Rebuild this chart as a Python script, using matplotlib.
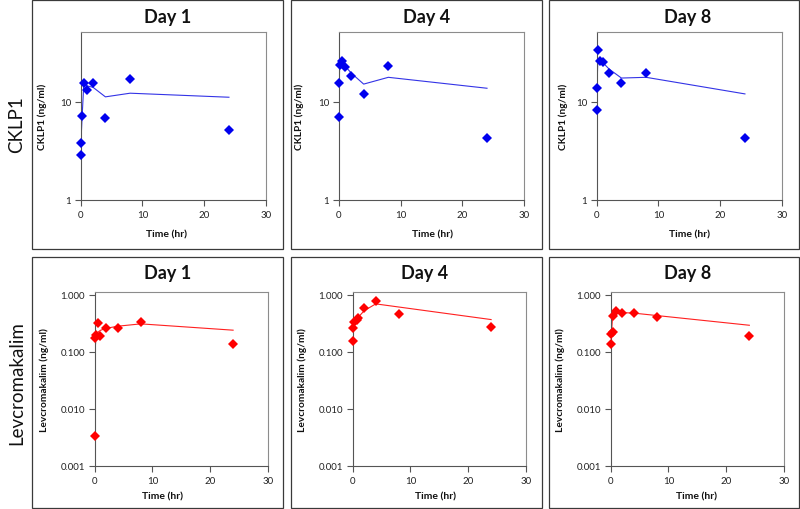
# ======================================================= #
# LIBRARIES
# ======================================================= #
import matplotlib.pyplot as plt
from matplotlib.patches import Rectangle

plt.rcParams['font.family'] = ['Lato', 'DejaVu Sans']


# ======================================================= #
# DATA
# ======================================================= #
day_titles = ["Day 1", "Day 4", "Day 8"]
row_names = ["CKLP1", "Levcromakalim"]
y_labels = ["CKLP1 (ng/ml)", "Levcromakalim (ng/ml)"]
x_label = "Time (hr)"
x_ticks = [0, 10, 20, 30]

# CKLP1 observed
cklp1_obs_t = [[0, 0, 0.25, 0.5, 1, 2, 4, 8, 24],
               [0, 0, 0.1, 0.5, 1, 2, 4, 8, 24],
               [0, 0, 0.17, 0.5, 1, 2, 4, 8, 24]]
cklp1_obs_c = [[2.9, 3.8, 7.2, 15.4, 13.1, 15.4, 6.9, 17.1, 5.1],
               [7.0, 15.4, 23.6, 25.7, 22.7, 18.1, 12.1, 23.1, 4.24],
               [8.3, 13.9, 33.5, 25.9, 25.1, 19.6, 15.4, 19.7, 4.24]]
# CKLP1 model
cklp1_fit_t = [[0, 0.25, 0.5, 1, 2, 4, 8, 24],
               [0, 0.1, 0.5, 1, 2, 4, 8, 24],
               [0, 0.17, 0.5, 1, 2, 4, 8, 24]]
cklp1_fit_c = [[3.5, 7.5, 15.0, 14.5, 14.0, 11.2, 12.2, 11.1],
               [11.0, 23.0, 25.0, 23.0, 19.5, 15.1, 17.7, 13.7],
               [10.6, 25.5, 26.0, 25.0, 21.5, 17.4, 17.7, 12.0]]

# Levcromakalim observed
levc_obs_t = [[0, 0, 0.25, 0.5, 1, 2, 4, 8, 24],
              [0, 0, 0.25, 0.7, 1, 2, 4, 8, 24],
              [0, 0, 0.33, 0.33, 1, 2, 4, 8, 24]]
levc_obs_c = [[0.0033, 0.177, 0.2, 0.32, 0.189, 0.268, 0.268, 0.337, 0.139],
              [0.157, 0.268, 0.342, 0.365, 0.396, 0.585, 0.796, 0.459, 0.272],
              [0.139, 0.208, 0.228, 0.424, 0.532, 0.478, 0.48, 0.406, 0.194]]
# Levcromakalim model
levc_fit_t = [[0, 0.25, 0.5, 1, 2, 4, 8, 24],
              [0, 0.25, 0.5, 1, 2, 4, 24],
              [0, 0.33, 1, 2, 4, 24]]
levc_fit_c = [[0.09, 0.19, 0.22, 0.24, 0.26, 0.283, 0.311, 0.241],
              [0.25, 0.33, 0.37, 0.41, 0.53, 0.697, 0.37],
              [0.14, 0.42, 0.5, 0.49, 0.48, 0.294]]

cklp1_yticks = [1, 10]
cklp1_yticklabels = ["1", "10"]
levc_yticks = [0.001, 0.01, 0.1, 1]
levc_yticklabels = ["0.001", "0.010", "0.100", "1.000"]


# ======================================================= #
# LAYOUT (pixels)
# ======================================================= #
W, H = 800, 510

def fx(px):
    return px / W

def fy(py):
    return 1 - py / H

# axes rects (left, top, right, bottom)
axes_px = [[(80.7, 33.3, 266, 201), (339, 33.3, 524, 201), (596.7, 33.3, 782, 201)],
           [(94.7, 292.7, 267.7, 467), (352.7, 292.7, 525.7, 467), (610.7, 292.7, 784, 467)]]
# panel boxes (left, top, right, bottom)
box_x = [(32, 283), (291, 542), (549, 799)]
box_y = [(1, 250), (258, 509)]
title_x = [[168, 426.7, 688], [168, 425, 687.7]]
title_y = [17, 274]
xlab_x = [[167, 432, 689.5], [163, 435.7, 697]]
xlab_y = [235, 497]
ylab_x = [[42, 299, 563], [44, 302, 560]]
row_lab_y = [125, 383]
ylims = [(1, 50.8), (0.001, 1.14)]


# ======================================================= #
# FIGURE
# ======================================================= #
fig = plt.figure(figsize=(8, 5.1), dpi=100)

# panel boxes
for (y0, y1) in box_y:
    for (x0, x1) in box_x:
        fig.add_artist(Rectangle((fx(x0), fy(y1)), fx(x1) - fx(x0), (y1 - y0) / H,
                                 transform=fig.transFigure, fill=False,
                                 edgecolor="#3a3a3a", linewidth=0.9))

# row labels
for r, name in enumerate(row_names):
    fig.text(fx(17), fy(row_lab_y[r]), name, rotation=90, ha="center", va="center",
             fontsize=13.5, color="#111111")

rows = [(cklp1_obs_t, cklp1_obs_c, cklp1_fit_t, cklp1_fit_c, "#0000EE", "#3333e6",
         cklp1_yticks, cklp1_yticklabels),
        (levc_obs_t, levc_obs_c, levc_fit_t, levc_fit_c, "#FF0000", "#ff2020",
         levc_yticks, levc_yticklabels)]

for r, (obs_t, obs_c, fit_t, fit_c, mcol, lcol, yt, ytl) in enumerate(rows):
    for c in range(3):
        l, t, rr, b = axes_px[r][c]
        ax = fig.add_axes([fx(l), fy(b), (rr - l) / W, (b - t) / H])

        # model line and observations
        ax.plot(fit_t[c], fit_c[c], color=lcol, linewidth=0.8, zorder=2)
        ax.plot(obs_t[c], obs_c[c], linestyle="none", marker="D", markersize=5.1,
                color=mcol, markeredgewidth=0, zorder=3, clip_on=False)

        # axes setup
        ax.set_yscale("log")
        ax.set_xlim(0, 30)
        ax.set_ylim(*ylims[r])
        ax.set_xticks(x_ticks)
        ax.set_yticks(yt)
        ax.set_yticklabels(ytl)
        ax.minorticks_off()
        ax.tick_params(direction="out", length=4, width=0.8, color="#555555",
                       labelsize=7, labelcolor="#222222", pad=3)
        for s in ["top", "right"]:
            ax.spines[s].set_color("#8c8c8c")
            ax.spines[s].set_linewidth(0.8)
        for s in ["left", "bottom"]:
            ax.spines[s].set_color("#555555")
            ax.spines[s].set_linewidth(0.8)

        # labels
        ax.set_xlabel(x_label, fontsize=7.5, fontweight="bold", color="#111111")
        ax.xaxis.set_label_coords(fx(xlab_x[r][c]), fy(xlab_y[r]), transform=fig.transFigure)
        ax.xaxis.label.set_va("center")
        ax.set_ylabel(y_labels[r], fontsize=7.3, fontweight="bold", color="#111111")
        ax.yaxis.set_label_coords(fx(ylab_x[r][c]), fy((t + b) / 2), transform=fig.transFigure)
        ax.yaxis.label.set_va("center")

        fig.text(fx(title_x[r][c]), fy(title_y[r]), day_titles[c], ha="center", va="center",
                 fontsize=13, fontweight="bold", color="#111111")

# save figure
plt.savefig("out.png", dpi=100)
plt.close(fig)
